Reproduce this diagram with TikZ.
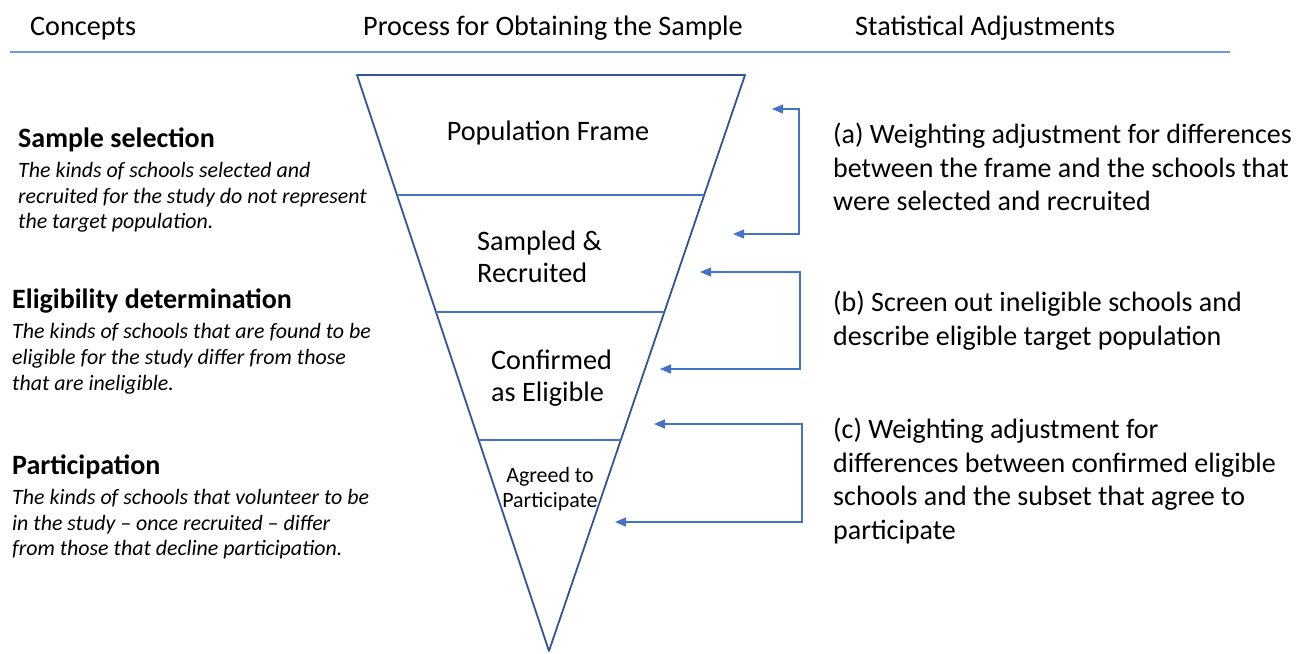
\documentclass[tikz,border=0pt]{standalone}
\usepackage{fontspec}
\setmainfont{Carlito}
\usetikzlibrary{positioning, calc, arrows.meta}
\definecolor{funnelblue}{HTML}{2F5597}
\definecolor{linkblue}{HTML}{4472C4}
\definecolor{rulelight}{HTML}{7099DC}

\begin{document}
\begin{tikzpicture}[x=1pt, y=-1pt, >={Triangle[length=11pt,width=9pt]},
    head/.style={anchor=west, inner sep=0, font=\fontsize{28.2}{33}\selectfont},
    stage/.style={inner sep=0, align=left, font=\fontsize{28.2}{32}\selectfont},
    concept/.style={anchor=west, inner sep=0, font=\bfseries\fontsize{28}{33}\selectfont},
    desc/.style={inner sep=0, align=left, font=\itshape\fontsize{21.9}{25.6}\selectfont},
    adjust/.style={anchor=west, inner sep=0, align=left, font=\fontsize{28}{33.5}\selectfont},
    divider/.style={draw=linkblue, line width=1.2pt},
    link/.style={draw=linkblue, line width=1.3pt, <->}]
\useasboundingbox (0,0) rectangle (1297,653);

% Column headings
\node[head] (hconcepts) at (30,28.5) {Concepts};
\node[head] (hprocess) at (363,28.5) {Process for Obtaining the Sample};
\node[head] (hadjust) at (855,28.5) {Statistical Adjustments};
\draw[rulelight, line width=1.3pt] (10,52) -- (1230,52);

% Funnel
\coordinate (ftl) at (357,75);
\coordinate (ftr) at (745,75);
\coordinate (fapex) at (549,651);
\draw[funnelblue, line width=1.8pt, line join=round] (ftl) -- (ftr) -- (fapex) -- cycle;
\foreach \t in {0.2083, 0.4115, 0.6337}
  \draw[divider] ($(ftl)!\t!(fapex)$) -- ($(ftr)!\t!(fapex)$);

\node[stage] (frame) at (548,133) {Population Frame};
\node[stage, anchor=west] (sampled) at (477,257) {Sampled \&\\Recruited};
\node[stage, anchor=west] (eligible) at (491,378) {Confirmed\\as Eligible};
\node[stage, align=center, font=\fontsize{21.9}{25.5}\selectfont] (agreed) at (550,489) {Agreed to\\Participate};

% Concepts
\node[concept] (selection) at (18,140) {Sample selection};
\node[desc, below=10pt of selection.south west, anchor=north west] (seldesc)
  {The kinds of schools selected and\\recruited for the study do not represent\\the target population.};
\node[concept] (eligibility) at (12,301) {Eligibility determination};
\node[desc, below=10pt of eligibility.south west, anchor=north west] (eligdesc)
  {The kinds of schools that are found to be\\eligible for the study differ from those\\that are ineligible.};
\node[concept] (participation) at (12,467) {Participation};
\node[desc, below=10pt of participation.south west, anchor=north west] (partdesc)
  {The kinds of schools that volunteer to be\\in the study – once recruited – differ\\from those that decline participation.};

% Adjustments
\node[adjust] (adja) at (833,167) {(a) Weighting adjustment for differences\\between the frame and the schools that\\were selected and recruited};
\node[adjust] (adjb) at (833,320.5) {(b) Screen out ineligible schools and\\describe eligible target population};
\node[adjust] (adjc) at (833,481) {(c) Weighting adjustment for\\differences between confirmed eligible\\schools and the subset that agree to\\participate};

% Brackets
\coordinate (atop) at (772,109);
\coordinate (abot) at (733,234);
\coordinate (btop) at (700,272);
\coordinate (bbot) at (660,369);
\coordinate (ctop) at (654,424);
\coordinate (cbot) at (615,522);
\draw[link] (atop) -- ++(27,0) |- (abot);
\draw[link] (btop) -- ++(100,0) |- (bbot);
\draw[link] (ctop) -- ++(148,0) |- (cbot);
\end{tikzpicture}
\end{document}
